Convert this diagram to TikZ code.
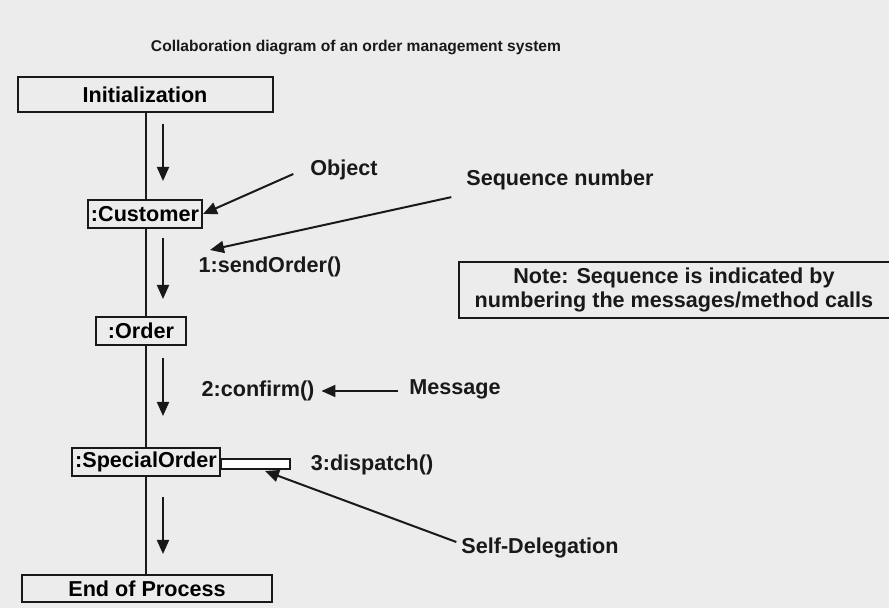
\documentclass[tikz,border=0pt]{standalone}
\usepackage{fontspec}
\setmainfont{Liberation Sans}
\usetikzlibrary{arrows.meta}

\definecolor{paper}{RGB}{236,236,236}
\definecolor{ink}{RGB}{25,25,25}

\begin{document}
\begin{tikzpicture}[x=0.5pt,y=-0.5pt,
    objbox/.style={draw=ink, line width=1pt, fill=paper, inner sep=1.5pt, minimum height=14pt,
                   font=\bfseries\fontsize{10.8}{12}\selectfont},
    lbl/.style={font=\bfseries\fontsize{10.8}{12}\selectfont, text=ink},
    flow/.style={-{Triangle[length=7pt,width=6pt]}, line width=1pt, draw=ink}]
  % --- page ---
  \fill[paper] (0,0) rectangle (889,608);
  \useasboundingbox (0,0) rectangle (889,608);

  % --- title ---
  \node[lbl, font=\bfseries\fontsize{7.8}{9}\selectfont] (title) at (356,48)
    {Collaboration diagram of an order management system};

  % --- objects ---
  \node[objbox, minimum width=127.5pt, minimum height=17.5pt] (init) at (145,95) {Initialization};
  \node[objbox] (cust) at (145,214) {:Customer};
  \node[objbox, minimum width=45pt] (order) at (141,331) {:Order};
  \node[objbox] (spec) at (146,462) {:SpecialOrder};
  \node[objbox, minimum width=125pt, minimum height=13.5pt] (done) at (147,589) {End of Process};

  % --- lifeline (segments between the boxes) ---
  \foreach \a/\b in {init/cust, cust/order, order/spec, spec/done} {
    \draw[ink, line width=1pt] (\a.south -| 146,0) -- (\b.north -| 146,0);
  }

  % --- flow arrows beside the lifeline ---
  \foreach \k/\ya/\yb in {1/124/181, 2/238/299, 3/358/416, 4/497/554} {
    \coordinate (f\k a) at (163,\ya);
    \coordinate (f\k b) at (163,\yb);
    \draw[flow] (f\k a) -- (f\k b);
  }

  % --- self delegation bar ---
  \draw[ink, line width=1pt, fill=white] (spec.east |- 0,459) rectangle (290,469);
  \coordinate (selfbar) at (265,471);

  % --- messages ---
  \node[lbl] (msg1) at (270,267) {1:sendOrder()};
  \node[lbl] (msg2) at (258,391) {2:confirm()};
  \node[lbl] (msg3) at (372,465) {3:dispatch()};

  % --- callouts ---
  \node[lbl] (objlbl) at (344,170) {Object};
  \node[lbl] (seqlbl) at (560,180) {Sequence number};
  \node[lbl] (msglbl) at (455,389) {Message};
  \node[lbl] (dellbl) at (540,548) {Self-Delegation};
  \coordinate (seqtip) at (210,250);

  \draw[flow] (objlbl.west) ++(-10,4) -- (cust.east);
  \draw[flow] (seqlbl.south west) ++(-8,0) -- (seqtip);
  \draw[flow] (msglbl.west) ++(-4,2) -- (msg2.east);
  \draw[flow] (dellbl.west) ++(2,-6) -- (selfbar);

  % --- note ---
  \node[draw=ink, line width=1pt, fill=paper, minimum width=215.5pt, minimum height=28pt,
        inner sep=2pt, align=center, font=\bfseries\fontsize{10.8}{12}\selectfont, text=ink]
    (note) at (674,290)
    {Note: Sequence is indicated by\\numbering the messages/method calls};
\end{tikzpicture}
\end{document}
